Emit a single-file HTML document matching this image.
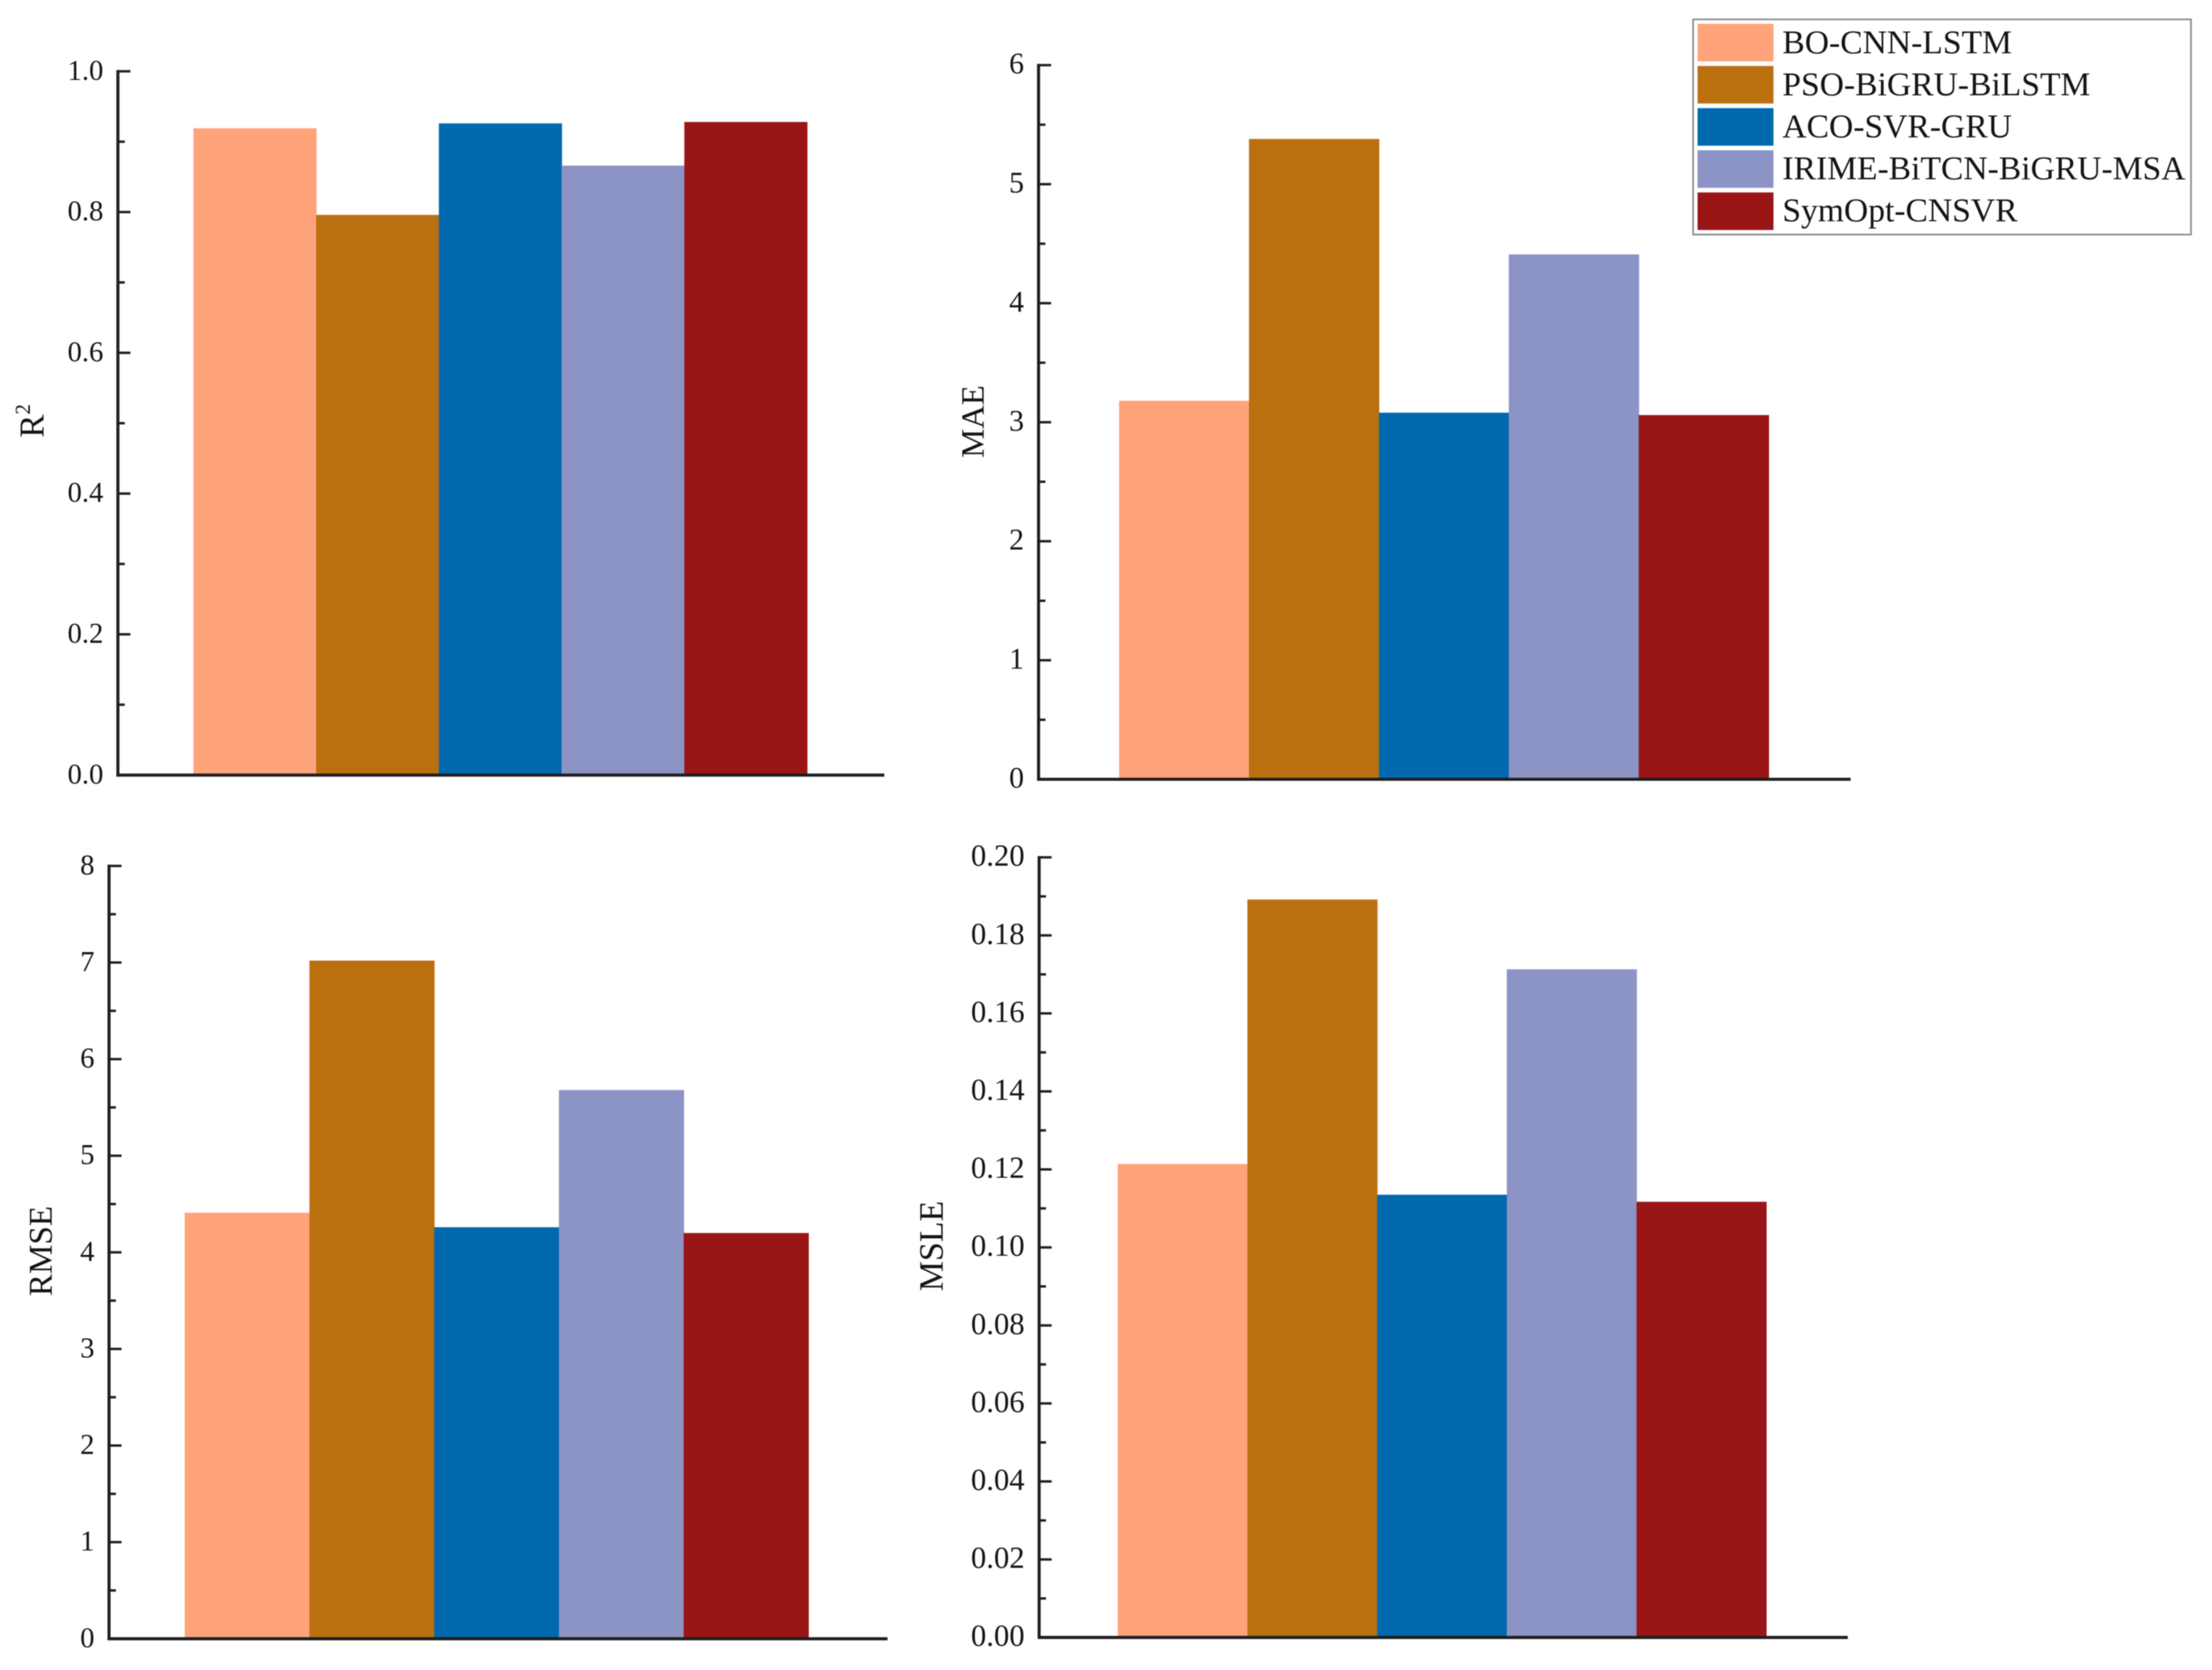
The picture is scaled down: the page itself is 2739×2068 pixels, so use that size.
<!DOCTYPE html>
<html lang="en">
<head>
<meta charset="utf-8">
<title>Model comparison bar charts</title>
<style>
html,body{margin:0;padding:0;background:#fff;}
svg{display:block;filter:blur(0.5px);}
text{font-family:"Liberation Serif","Times New Roman",serif;fill:#141414;}
</style>
</head>
<body>
<svg id="figure" xmlns="http://www.w3.org/2000/svg" width="2739" height="2068" viewBox="0 0 2739 2068">
<rect x="0" y="0" width="2739" height="2068" fill="#ffffff"></rect>
</svg>
<script>
// ---- chart data ----
const models = ["BO-CNN-LSTM", "PSO-BiGRU-BiLSTM", "ACO-SVR-GRU", "IRIME-BiTCN-BiGRU-MSA", "SymOpt-CNSVR"];
const r2Values = [0.919, 0.796, 0.926, 0.866, 0.928];
const maeValues = [3.18, 5.38, 3.08, 4.41, 3.06];
const rmseValues = [4.41, 7.02, 4.26, 5.68, 4.20];
const msleValues = [0.1214, 0.1892, 0.1135, 0.1713, 0.1117];
const r2Ticks = ["0.0", "0.2", "0.4", "0.6", "0.8", "1.0"];
const maeTicks = ["0", "1", "2", "3", "4", "5", "6"];
const rmseTicks = ["0", "1", "2", "3", "4", "5", "6", "7", "8"];
const msleTicks = ["0.00", "0.02", "0.04", "0.06", "0.08", "0.10", "0.12", "0.14", "0.16", "0.18", "0.20"];

// ---- presentation ----
const colors = ["#FFA37A", "#BB7010", "#0069AE", "#8C94C6", "#9A1516"];
const panels = [
  {id:"r2", title:"R", values:r2Values, ticks:r2Ticks,
   axisX:146, top:88.3, bottom:959.8, axisEnd:1095, barStart:239.5, barEnd:999.3, font:35.5, titleX:54, titleY:542, titleSize:43},
  {id:"mae", title:"MAE", values:maeValues, ticks:maeTicks,
   axisX:1286, top:80.7, bottom:965, axisEnd:2291.5, barStart:1385.7, barEnd:2190, font:37, titleX:1218, titleY:567, titleSize:40.5},
  {id:"rmse", title:"RMSE", values:rmseValues, ticks:rmseTicks,
   axisX:135, top:1072.3, bottom:2029.3, axisEnd:1099, barStart:228.7, barEnd:1001, font:35.5, titleX:64, titleY:1605, titleSize:41},
  {id:"msle", title:"MSLE", values:msleValues, ticks:msleTicks,
   axisX:1286.7, top:1061.7, bottom:2027.7, axisEnd:2288, barStart:1384, barEnd:2187, font:38, titleX:1167.5, titleY:1599, titleSize:42}
];
const AXIS = "#1e1e1e";
const svg = document.getElementById("figure");
const NS = "http://www.w3.org/2000/svg";

function make(tag, attrs, parent) {
  const node = document.createElementNS(NS, tag);
  for (const k in attrs) node.setAttribute(k, attrs[k]);
  (parent || svg).appendChild(node);
  return node;
}

function drawPanel(p) {
  const group = make("g", {});
  
  

  const lo = Number(p.ticks[0]);
  const hi = Number(p.ticks[p.ticks.length - 1]);
  const yScale = v => p.bottom - (v - lo) / (hi - lo) * (p.bottom - p.top);
  const barW = (p.barEnd - p.barStart) / p.values.length;
  const xScale = i => p.barStart + i * barW;

  p.values.forEach((v, i) => {
    const bar = make("rect", {x:xScale(i), y:yScale(v), width:barW + 0.5, height:p.bottom - yScale(v), fill:colors[i]}, group);
    
    
  });

  const yAxis = make("line", {x1:p.axisX, x2:p.axisX, y1:p.top - 1.6, y2:p.bottom + 1.6, stroke:AXIS, "stroke-width":3.8}, group);
  
  

  const xAxis = make("line", {x1:p.axisX - 1.7, x2:p.axisEnd, y1:p.bottom, y2:p.bottom, stroke:AXIS, "stroke-width":3.8}, group);
  
  

  p.ticks.forEach((label, i) => {
    const v = Number(label);
    const y = yScale(v);
    const tick = make("line", {x1:p.axisX, x2:p.axisX + 15.5, y1:y, y2:y, stroke:AXIS, "stroke-width":3}, group);
    
    

    const text = make("text", {x:p.axisX - 18, y:y + 10.5, "text-anchor":"end", "font-size":p.font}, group);
    text.textContent = label;
    
    

    if (i < p.ticks.length - 1) {
      const my = yScale((v + Number(p.ticks[i + 1])) / 2);
      const minor = make("line", {x1:p.axisX, x2:p.axisX + 8.5, y1:my, y2:my, stroke:AXIS, "stroke-width":3}, group);
      
      
    }
  });

  const title = make("text", {x:p.titleX, y:p.titleY, "font-size":p.titleSize,
    transform:"rotate(-90 " + p.titleX + " " + p.titleY + ")"}, group);
  title.textContent = p.title;
  
  
  if (p.id === "r2") {
    const sup = make("tspan", {dy:-17, "font-size":26}, title);
    sup.textContent = "2";
  }
}
panels.forEach(drawPanel);

// ---- legend ----
const legend = make("g", {});



const legendBox = make("rect", {x:2096.5, y:24, width:616.5, height:266.5, fill:"#ffffff", stroke:"#8a8a8a", "stroke-width":2}, legend);



models.forEach((name, i) => {
  const swatch = make("rect", {x:2102, y:29.5 + i * 52.2, width:94, height:46.5, fill:colors[i]}, legend);
  
  

  const label = make("text", {x:2207, y:66 + i * 52, "font-size":41.6}, legend);
  label.textContent = name;
  
  
});
</script>
</body>
</html>
